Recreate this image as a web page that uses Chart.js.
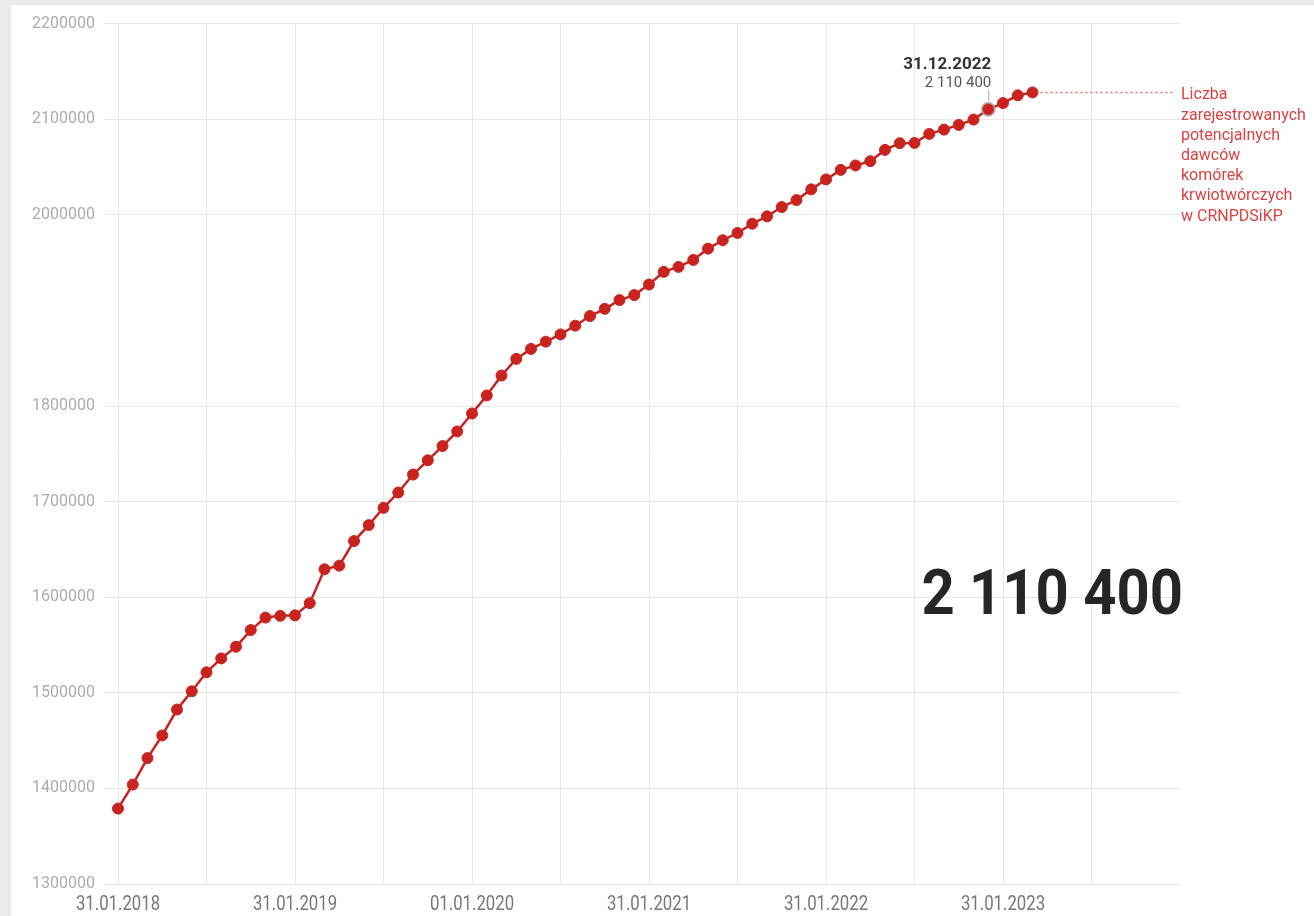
<!DOCTYPE html>
<html lang="pl">
<head>
    <meta charset="UTF-8">
    <title>Liczba zarejestrowanych potencjalnych dawców</title>
    <script src="https://cdn.jsdelivr.net/npm/chart.js"></script>
    <style>
        html, body { margin: 0; padding: 0; background: #ebebeb; }
        .panel {
            position: absolute; left: 11px; top: 5px;
            width: 1303px; height: 911px;
            background: #fff;
        }
    </style>
</head>
<body>
    <div class="panel">
        <canvas id="donors"></canvas>
    </div>

    <script>
        // monthly values, 31.01.2018 .. 31.03.2023
        const values = [
            1378900, 1404000, 1431700, 1455400, 1482500, 1501600, 1521400, 1536000, 1548200, 1565600, 1578700, 1580500,
            1581000, 1593800, 1629200, 1633000, 1658700, 1675400, 1693500, 1709500, 1728300, 1743200, 1758100, 1773400,
            1792200, 1811000, 1831900, 1849300, 1859700, 1867300, 1874900, 1884000, 1894100, 1901700, 1910800, 1916000,
            1927100, 1940300, 1945500, 1952800, 1964600, 1973400, 1981000, 1990700, 1998400, 2008100, 2015400, 2026600,
            2037000, 2047000, 2051600, 2056100, 2067900, 2074900, 2075200, 2084600, 2089100, 2094000, 2099600, 2110400,
            2116900, 2125000, 2128000
        ];

        // one category per month, Jan 2018 .. Jan 2024 (axis runs past the data)
        const months = [];
        for (let y = 2018; y <= 2024; y++) {
            for (let m = 1; m <= 12; m++) {
                if (y === 2024 && m > 1) break;
                months.push(String(m).padStart(2, '0') + '.' + y);
            }
        }

        const xTickLabels = ['31.01.2018', '31.01.2019', '01.01.2020', '31.01.2021', '31.01.2022', '31.01.2023'];
        const hiddenYTick = 1900000;

        const highlightIndex = 59;
        const highlightDate = '31.12.2022';
        const highlightValue = '2 110 400';
        const bigNumber = '2 110 400';
        const seriesLabel = ['Liczba', 'zarejestrowanych', 'potencjalnych', 'dawców', 'komórek', 'krwiotwórczych', 'w CRNPDSiKP'];

        const RED = '#c8231f';
        const GRID = '#e6e6e6';

        // draws text squeezed horizontally (no condensed font installed)
        function narrowText(ctx, text, x, y, sx) {
            ctx.save();
            ctx.translate(x, y);
            ctx.scale(sx, 1);
            ctx.fillText(text, 0, 0);
            ctx.restore();
        }

        const annotations = {
            id: 'annotations',
            afterDatasetsDraw(chart) {
                const ctx = chart.ctx;
                const xs = chart.scales.x, ys = chart.scales.y;
                const area = chart.chartArea;
                ctx.save();

                // x tick labels, condensed
                ctx.fillStyle = '#777';
                ctx.font = '19.5px Roboto';
                ctx.textAlign = 'center';
                ctx.textBaseline = 'alphabetic';
                xs.ticks.forEach((t, i) => {
                    if (t.label) narrowText(ctx, t.label, xs.getPixelForTick(i), area.bottom + 26, 0.86);
                });

                // highlighted point label
                const hx = xs.getPixelForValue(highlightIndex);
                const hy = ys.getPixelForValue(values[highlightIndex]);
                ctx.strokeStyle = '#aaaaaa';
                ctx.lineWidth = 1;
                ctx.beginPath();
                ctx.moveTo(hx + 0.5, hy - 20);
                ctx.lineTo(hx + 0.5, hy - 8);
                ctx.stroke();
                ctx.textAlign = 'right';
                ctx.fillStyle = '#333';
                ctx.font = 'bold 17px Roboto';
                ctx.fillText(highlightDate, hx + 3, hy - 40);
                ctx.fillStyle = '#555';
                ctx.font = '15px Roboto';
                ctx.fillText(highlightValue, hx + 3, hy - 22);

                // series label with dotted leader
                const last = values.length - 1;
                const lx = xs.getPixelForValue(last);
                const ly = ys.getPixelForValue(values[last]);
                ctx.strokeStyle = '#e06a6a';
                ctx.lineWidth = 1.5;
                ctx.setLineDash([2, 3]);
                ctx.beginPath();
                ctx.moveTo(lx + 8, ly);
                ctx.lineTo(area.right - 7, ly);
                ctx.stroke();
                ctx.setLineDash([]);
                ctx.textAlign = 'left';
                ctx.fillStyle = '#dc4141';
                ctx.font = '16px Roboto';
                seriesLabel.forEach((t, i) => ctx.fillText(t, area.right + 1, ly + 7 + i * 20.2));

                // big number, sitting just below the 1 600 000 gridline
                ctx.textAlign = 'right';
                ctx.fillStyle = '#262626';
                ctx.font = 'bold 63px Roboto';
                narrowText(ctx, bigNumber, area.right + 3, ys.getPixelForValue(1600000) + 17, 0.92);
                ctx.restore();
            }
        };

        const isHi = (i) => i === highlightIndex;

        new Chart(document.getElementById('donors'), {
            type: 'line',
            data: {
                labels: months,
                datasets: [{
                    data: values,
                    borderColor: RED,
                    backgroundColor: RED,
                    borderWidth: 2.5,
                    pointRadius: values.map((v, i) => isHi(i) ? 6.5 : 5.5),
                    pointBackgroundColor: RED,
                    pointBorderColor: values.map((v, i) => isHi(i) ? 'rgba(170,170,170,0.75)' : RED),
                    pointBorderWidth: values.map((v, i) => isHi(i) ? 2 : 1),
                    tension: 0
                }]
            },
            options: {
                responsive: true,
                maintainAspectRatio: false,
                animation: false,
                layout: { padding: { top: 16, right: 134, left: 0, bottom: 0 } },
                plugins: { legend: { display: false }, tooltip: { enabled: false } },
                scales: {
                    x: {
                        offset: false,
                        border: { display: false },
                        grid: {
                            drawTicks: false,
                            color: (c) => (c.index % 6 === 0 && c.index < months.length - 1) ? GRID : 'transparent'
                        },
                        ticks: {
                            autoSkip: false,
                            maxRotation: 0,
                            padding: 8,
                            color: 'transparent',
                            font: { family: 'Roboto', size: 19 },
                            callback: (v, i) => (i % 12 === 0 && xTickLabels[i / 12]) ? xTickLabels[i / 12] : ''
                        },
                        afterFit: (s) => { s.height = 32; }
                    },
                    y: {
                        min: 1300000,
                        max: 2200000,
                        border: { display: false },
                        grid: {
                            tickLength: 14,
                            color: (c) => c.tick.value === hiddenYTick ? 'transparent' : GRID
                        },
                        ticks: {
                            stepSize: 100000,
                            padding: 9,
                            color: '#ababab',
                            font: { family: 'Roboto', size: 16 },
                            callback: (v) => v === hiddenYTick ? '' : String(v)
                        },
                        afterFit: (s) => { s.width = 107; }
                    }
                }
            },
            plugins: [annotations]
        });
    </script>
</body>
</html>
